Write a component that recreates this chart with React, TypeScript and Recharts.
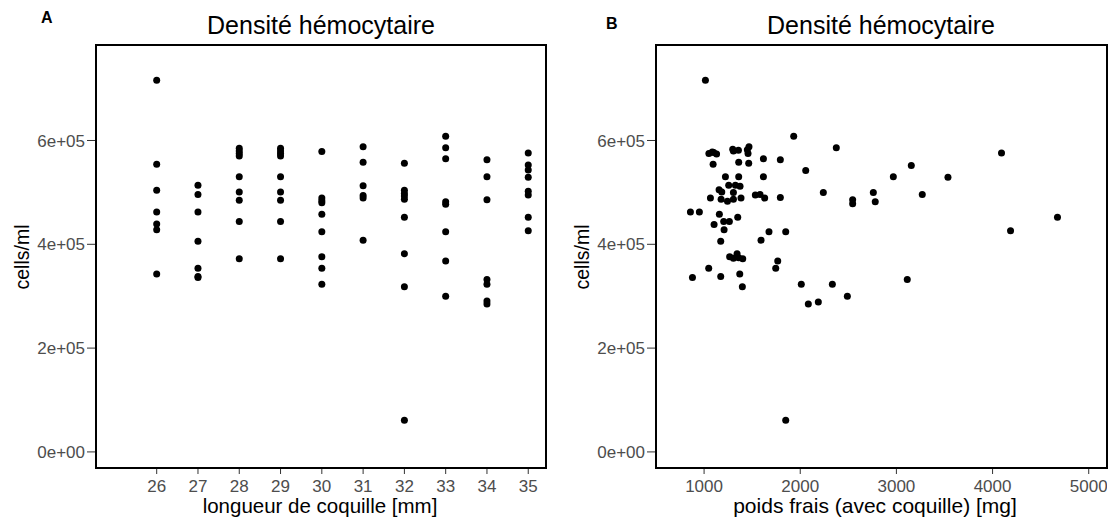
import React from 'react'
import { ScatterChart, Scatter, XAxis, YAxis } from 'recharts'

// panel A: shell length (mm) vs haemocyte density
const lengthA = [
  26, 26, 26, 26, 26, 26, 26,
  27, 27, 27, 27, 27, 27, 27,
  28, 28, 28, 28, 28, 28, 28, 28, 28,
  29, 29, 29, 29, 29, 29, 29, 29, 29,
  30, 30, 30, 30, 30, 30, 30, 30, 30,
  31, 31, 31, 31, 31, 31,
  32, 32, 32, 32, 32, 32, 32, 32, 32,
  33, 33, 33, 33, 33, 33, 33, 33,
  34, 34, 34, 34, 34, 34, 34,
  35, 35, 35, 35, 35, 35, 35, 35,
]
const cellsA = [
  716000, 554000, 504000, 462000, 439000, 428000, 343000,
  514000, 496000, 462000, 406000, 354000, 338000, 336000,
  585000, 580000, 575000, 570000, 530000, 501000, 485000, 444000, 372000,
  585000, 580000, 575000, 570000, 530000, 501000, 485000, 444000, 372000,
  579000, 489000, 484000, 480000, 458000, 424000, 376000, 354000, 323000,
  588000, 558000, 513000, 494000, 489000, 408000,
  556000, 504000, 498000, 493000, 487000, 452000, 382000, 318000, 61000,
  608000, 586000, 565000, 482000, 477000, 424000, 368000, 300000,
  563000, 530000, 486000, 332000, 323000, 291000, 285000,
  576000, 553000, 543000, 529000, 502000, 495000, 452000, 426000,
]

// panel B: fresh weight with shell (mg) vs haemocyte density
const weightB = [
  1014, 1932, 2375, 4093, 1050, 1085, 1100, 1130, 1094, 1298, 1305, 1357,
  1450, 1467, 1457, 1360, 1464, 1617, 1793, 2057, 3155, 1222, 1360, 1617,
  2968, 3536, 1256, 1326, 1374, 1156, 1184, 1305, 2240, 2760, 3269, 1066,
  1177, 1243, 1305, 1384, 1533, 1582, 1630, 1793, 2545, 2545, 2780, 858,
  951, 1159, 1350, 4675, 1204, 1263, 1104, 1208, 1675, 1849, 4187, 1173,
  1592, 1266, 1343, 1402, 1305, 1360, 1766, 1745, 1048, 879, 1173, 1371,
  1398, 2011, 2334, 3113, 2490, 2084, 2188, 1849,
]
const cellsB = [
  716000, 608000, 586000, 576000, 575000, 578000, 577000, 574000, 554000, 583000, 580000, 581000,
  582000, 588000, 575000, 558000, 556000, 565000, 563000, 542000, 552000, 530000, 530000, 530000,
  530000, 529000, 514000, 514000, 512000, 505000, 501000, 500000, 500000, 500000, 496000, 489000,
  487000, 483000, 487000, 489000, 495000, 496000, 489000, 490000, 486000, 478000, 482000, 462000,
  462000, 458000, 452000, 452000, 444000, 444000, 438000, 428000, 424000, 424000, 426000, 406000,
  408000, 376000, 382000, 372000, 373000, 374000, 368000, 354000, 354000, 336000, 338000, 343000,
  318000, 323000, 323000, 332000, 300000, 285000, 289000, 61000,
]

const yTicks = [0, 200000, 400000, 600000]
const xTicksA = [26, 27, 28, 29, 30, 31, 32, 33, 34, 35]
const xTicksB = [1000, 2000, 3000, 4000, 5000]

const title = 'Densité hémocytaire'
const yLabel = 'cells/ml'
const xLabelA = 'longueur de coquille [mm]'
const xLabelB = 'poids frais (avec coquille) [mg]'

const FONT = 'Arial, "Liberation Sans", sans-serif'

const fmtSci = (v: number) => {
  if (v === 0) return '0e+00'
  const e = Math.floor(Math.log10(Math.abs(v)))
  const m = v / Math.pow(10, e)
  return `${m}e+${String(e).padStart(2, '0')}`
}

const dot = (props: any) => <circle cx={props.cx} cy={props.cy} r={3.5} fill="#000" />

const tickStyle = { fontSize: 17, fill: '#4d4d4d', fontFamily: FONT }

function Panel({
  data,
  domain,
  ticks,
  width,
}: {
  data: Array<{ x: number; y: number }>
  domain: [number, number]
  ticks: number[]
  width: number
}) {
  return (
    <ScatterChart width={width} height={525} margin={{ top: 45, right: 0, bottom: 0, left: 0 }}>
      <XAxis
        type="number"
        dataKey="x"
        domain={domain}
        ticks={ticks}
        allowDataOverflow
        axisLine={false}
        tickLine={{ stroke: '#333' }}
        tickSize={6}
        tickMargin={6}
        tick={tickStyle}
        interval={0}
        height={57}
      />
      <YAxis
        type="number"
        dataKey="y"
        domain={[-31000, 784000]}
        ticks={yTicks}
        allowDataOverflow
        axisLine={false}
        tickLine={{ stroke: '#333' }}
        tickSize={9}
        tickMargin={2}
        tick={tickStyle}
        tickFormatter={fmtSci}
        width={96}
        interval={0}
      />
      <Scatter data={data} fill="#000" shape={dot} isAnimationActive={false} />
    </ScatterChart>
  )
}

export default function App() {
  const dataA = lengthA.map((x, i) => ({ x, y: cellsA[i] }))
  const dataB = weightB.map((x, i) => ({ x, y: cellsB[i] }))

  return (
    <div style={{ position: 'absolute', left: 0, top: 0, width: 1113, height: 525, background: '#fff' }}>
      <div style={{ position: 'absolute', left: 0, top: 0 }}>
        <Panel data={dataA} domain={[24.53, 35.43]} ticks={xTicksA} width={546} />
      </div>
      <div style={{ position: 'absolute', left: 560, top: 0 }}>
        <Panel data={dataB} domain={[500, 5190]} ticks={xTicksB} width={547} />
      </div>
      <div style={{ position: 'absolute', left: 95, top: 44, width: 452, height: 425, border: '2px solid #000', boxSizing: 'border-box', pointerEvents: 'none' }} />
      <div style={{ position: 'absolute', left: 655, top: 44, width: 453, height: 425, border: '2px solid #000', boxSizing: 'border-box', pointerEvents: 'none' }} />
      <svg width={1113} height={525} style={{ position: 'absolute', left: 0, top: 0, pointerEvents: 'none' }} fontFamily={FONT}>
        <text x={41} y={23} fontSize={16} fontWeight="bold">A</text>
        <text x={606} y={29} fontSize={16} fontWeight="bold">B</text>
        <text x={321} y={34} fontSize={25} textAnchor="middle">{title}</text>
        <text x={881} y={34} fontSize={25} textAnchor="middle">{title}</text>
        <text x={320} y={513} fontSize={20.5} textAnchor="middle">{xLabelA}</text>
        <text x={875} y={513} fontSize={21} textAnchor="middle">{xLabelB}</text>
        <text x={0} y={0} fontSize={19.5} textAnchor="middle" transform="translate(29,257) rotate(-90)">{yLabel}</text>
        <text x={0} y={0} fontSize={19.5} textAnchor="middle" transform="translate(589,257) rotate(-90)">{yLabel}</text>
      </svg>
    </div>
  )
}
